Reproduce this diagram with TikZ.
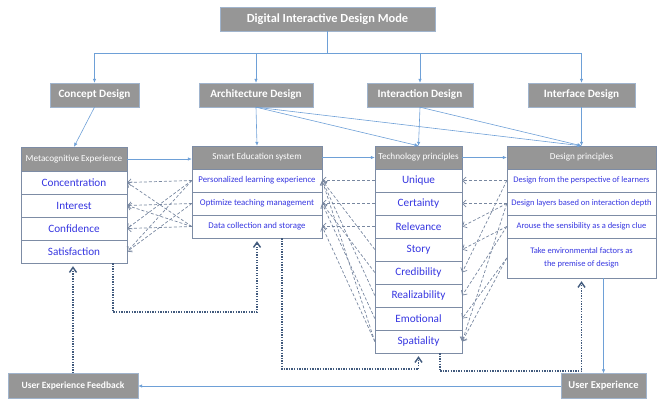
\documentclass[tikz,border=0pt]{standalone}
\usepackage{fontspec}
\setmainfont{Carlito}
\usetikzlibrary{arrows.meta}
\definecolor{boxgray}{RGB}{150,150,150}
\definecolor{boxedge}{RGB}{160,180,205}
\definecolor{rowedge}{RGB}{125,140,165}
\definecolor{rowtext}{RGB}{55,55,225}
\definecolor{lineblue}{RGB}{110,160,215}
\definecolor{dashgray}{RGB}{120,135,160}
\definecolor{dotblue}{RGB}{65,90,125}
\tikzset{
  modebox/.style={fill=boxgray,draw=boxedge,text=white,inner sep=1pt,minimum height=24,font=\bfseries\fontsize{11.2}{13}\selectfont},
  headbox/.style={fill=boxgray,draw=rowedge,text=white,inner sep=1pt,minimum height=23,font=\fontsize{9.2}{11}\selectfont},
  rowbox/.style={fill=white,draw=rowedge,text=rowtext,inner sep=1pt,minimum height=23,font=\fontsize{11.2}{13}\selectfont},
  smallrow/.style={rowbox,font=\fontsize{8.8}{10}\selectfont},
  tinyrow/.style={rowbox,font=\fontsize{8.5}{10}\selectfont},
  blarrow/.style={draw=lineblue,line width=0.6pt,-{Latex[length=4pt,width=3.5pt]}},
  dasharrow/.style={draw=dashgray,line width=0.7pt,dash pattern=on 3pt off 2pt,-{Straight Barb[length=3.5pt,width=7pt]}},
  dotarrow/.style={draw=dotblue,line width=1.5pt,dash pattern=on 1.3pt off 1.3pt,shorten >=3pt,-{Straight Barb[length=5pt,width=7pt,line width=1.4pt]}}
}
\begin{document}
\begin{tikzpicture}[x=1pt,y=-1pt]
\useasboundingbox (0,0) rectangle (659,400);
\node[modebox,minimum width=215,font=\bfseries\fontsize{12.4}{14}\selectfont] (dim) at(327.5,19) {Digital Interactive Design Mode};
\node[modebox,minimum width=89] (concept) at(94.5,95) {Concept Design};
\node[modebox,minimum width=114] (arch) at(256,95) {Architecture Design};
\node[modebox,minimum width=106] (interact) at(420,95) {Interaction Design};
\node[modebox,minimum width=107] (iface) at(581.5,95) {Interface Design};
\coordinate (split) at(327.5,53);
\draw[draw=lineblue,line width=0.6pt] (dim.south) -- (split);
\draw[blarrow] (split) -| (concept.north);
\draw[blarrow] (split) -| (arch.north);
\draw[blarrow] (split) -| (interact.north);
\draw[blarrow] (split) -| (iface.north);
\node[headbox,minimum width=106,minimum height=24] (mec) at(74,159) {Metacognitive Experience};
\node[rowbox,minimum width=106] (conc) at(74,182.5) {Concentration};
\node[rowbox,minimum width=106] (intr) at(74,205.5) {Interest};
\node[rowbox,minimum width=106] (conf) at(74,228.5) {Confidence};
\node[rowbox,minimum width=106] (satis) at(74,251.5) {Satisfaction};
\node[headbox,minimum width=130] (ses) at(257,157.5) {Smart Education system};
\node[smallrow,minimum width=130] (pers) at(257,180.5) {Personalized learning experience};
\node[smallrow,minimum width=130] (opt) at(257,203.5) {Optimize teaching management};
\node[smallrow,minimum width=130] (data) at(257,226.5) {Data collection and storage};
\node[headbox,minimum width=87] (tp) at(418.5,157.5) {Technology principles};
\node[rowbox,minimum width=87] (uniq) at(418.5,180.5) {Unique};
\node[rowbox,minimum width=87] (cert) at(418.5,203.5) {Certainty};
\node[rowbox,minimum width=87] (relv) at(418.5,226.5) {Relevance};
\node[rowbox,minimum width=87] (story) at(418.5,249.5) {Story};
\node[rowbox,minimum width=87] (cred) at(418.5,272.5) {Credibility};
\node[rowbox,minimum width=87] (real) at(418.5,295.5) {Realizability};
\node[rowbox,minimum width=87] (emot) at(418.5,318.5) {Emotional};
\node[rowbox,minimum width=87] (spat) at(418.5,341.5) {Spatiality};
\node[headbox,minimum width=149] (dp) at(581.5,157.5) {Design principles};
\node[tinyrow,minimum width=149] (persp) at(581.5,180.5) {Design from the perspective of learners};
\node[tinyrow,minimum width=149] (layer) at(581.5,203.5) {Design layers based on interaction depth};
\node[tinyrow,minimum width=149] (arouse) at(581.5,226.5) {Arouse the sensibility as a design clue};
\node[tinyrow,minimum width=149,minimum height=40,align=center] (env) at(581.5,258) {Take environmental factors as\\[3pt]the premise of design};
\node[modebox,minimum width=130,minimum height=25,font=\bfseries\fontsize{9.5}{11}\selectfont] (uef) at(73,386) {User Experience Feedback};
\node[modebox,minimum width=85,minimum height=25,font=\bfseries\fontsize{10.5}{12}\selectfont] (ux) at(603.5,386) {User Experience};
\draw[blarrow] (concept.south) -- (mec.north);
\draw[blarrow] (arch.south) -- (ses.north);
\draw[blarrow] (arch.south) -- (tp.north);
\draw[blarrow] (arch.south) -- (dp.north);
\draw[blarrow] (interact.south) -- (tp.north);
\draw[blarrow] (interact.south) -- (dp.north);
\draw[blarrow] (iface.south) -- (dp.north);
\draw[blarrow] (mec.east) -- (mec.east -| ses.west);
\draw[blarrow] (ses.east) -- (ses.east -| tp.west);
\draw[blarrow] (tp.east) -- (tp.east -| dp.west);
\draw[dasharrow] (pers.west) -- (conc.east);
\draw[dasharrow] (opt.west) -- (intr.east);
\draw[dasharrow] (data.west) -- (conf.east);
\draw[dasharrow] (data.west) -- (conc.east);
\draw[dasharrow] (data.west) -- (intr.east);
\draw[dasharrow] (pers.west) -- (conf.east);
\draw[dasharrow] (pers.west) -- (satis.east);
\draw[dasharrow] (opt.west) -- (satis.east);
\draw[dasharrow] (uniq.west) -- (pers.east);
\draw[dasharrow] (cert.west) -- (opt.east);
\draw[dasharrow] (relv.west) -- (data.east);
\draw[dasharrow] (story.west) -- (pers.east);
\draw[dasharrow] (cred.west) -- (opt.east);
\draw[dasharrow] (real.west) -- (pers.east);
\draw[dasharrow] (emot.west) -- (opt.east);
\draw[dasharrow] (spat.west) -- (pers.east);
\draw[dasharrow] (spat.west) -- (data.east);
\draw[dasharrow] (persp.west) -- (uniq.east);
\draw[dasharrow] (layer.west) -- (cert.east);
\draw[dasharrow] (layer.west) -- (relv.east);
\draw[dasharrow] (arouse.west) -- (story.east);
\draw[dasharrow] (persp.west) -- (cred.east);
\draw[dasharrow] (arouse.west) -- (real.east);
\draw[dasharrow] (env.west) -- (emot.east);
\draw[dasharrow] (layer.west) -- (spat.east);
\draw[dasharrow] (env.west) -- (spat.east);
\draw[blarrow] (ux.west) -- (uef.east);
\draw[blarrow] (ux.north |- env.south) -- (ux.north);
\draw[dotarrow] (uef.north) -- (uef.north |- satis.south);
\draw[dotarrow] ([xshift=39pt]satis.south) -- ++(0,49) -| (data.south);
\draw[dotarrow] ([xshift=25pt]data.south) -- ++(0,131) -| (spat.south);
\draw[dotarrow] ([xshift=21.5pt]spat.south) -- ++(0,18) -| (env.south);
\end{tikzpicture}
\end{document}
